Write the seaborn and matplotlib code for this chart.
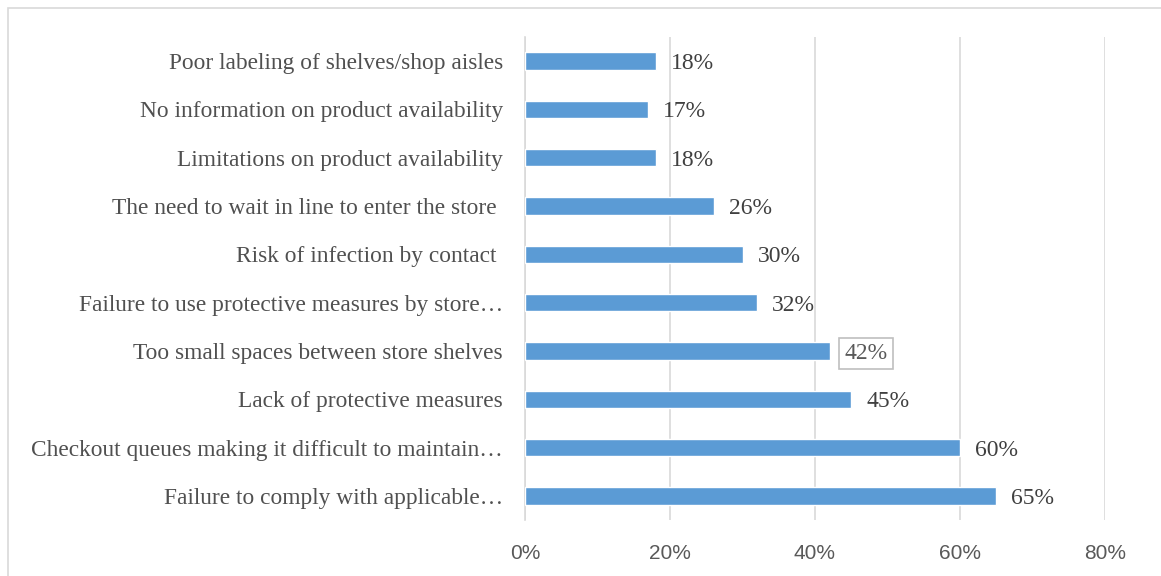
import matplotlib
matplotlib.use("Agg")
import matplotlib.pyplot as plt
import seaborn as sns
import pandas as pd
from matplotlib.patches import Rectangle
from matplotlib.ticker import FuncFormatter

categories = [
    "Poor labeling of shelves/shop aisles",
    "No information on product availability",
    "Limitations on product availability",
    "The need to wait in line to enter the store ",
    "Risk of infection by contact ",
    "Failure to use protective measures by store\u2026",
    "Too small spaces between store shelves",
    "Lack of protective measures",
    "Checkout queues making it difficult to maintain\u2026",
    "Failure to comply with applicable\u2026",
]
values = [0.18, 0.17, 0.18, 0.26, 0.30, 0.32, 0.42, 0.45, 0.60, 0.65]
value_labels = ["18%", "17%", "18%", "26%", "30%", "32%", "42%", "45%", "60%", "65%"]
boxed_label = "42%"
x_ticks = [0, 0.2, 0.4, 0.6, 0.8]

sns.set_theme(style="white")
serif = ["Liberation Serif", "DejaVu Serif"]
sans = ["Liberation Sans Narrow", "Liberation Sans", "DejaVu Sans"]

df = pd.DataFrame({"category": categories, "value": values})

fig = plt.figure(figsize=(11.61, 5.76), dpi=100)
ax = fig.add_axes([525 / 1161, 1 - 520 / 576, 580 / 1161, 483 / 576])

sns.barplot(data=df, y="category", x="value", orient="h", color="#5B9BD5",
            saturation=1, width=0.36, ax=ax, zorder=3)

ax.set_xlim(0, 0.8)
ax.set_xticks(x_ticks)
ax.xaxis.set_major_formatter(FuncFormatter(lambda v, _: f"{v * 100:.0f}%"))
ax.grid(axis="x", color="#D9D9D9", linewidth=1.2, zorder=0)
ax.grid(axis="y", visible=False)
for side in ["top", "right", "bottom"]:
    ax.spines[side].set_visible(False)
ax.spines["left"].set_color("#D9D9D9")
ax.spines["left"].set_linewidth(1.2)
ax.tick_params(axis="both", length=0)
ax.tick_params(axis="y", pad=16)
ax.tick_params(axis="x", pad=17)
ax.set_xlabel("")
ax.set_ylabel("")

for lab in ax.get_yticklabels():
    lab.set_fontfamily(serif)
    lab.set_fontsize(16.8)
    lab.set_color("#505050")
for lab in ax.get_xticklabels():
    lab.set_fontfamily(sans)
    lab.set_fontsize(15)
    lab.set_color("#595959")

for i, (v, txt) in enumerate(zip(values, value_labels)):
    kw = dict(ha="left", va="center_baseline", fontsize=17, family=serif,
              color="#404040")
    if txt == boxed_label:
        kw["bbox"] = dict(boxstyle="square,pad=0.22", facecolor="white",
                          edgecolor="#BFBFBF", linewidth=1.2)
        kw["color"] = "#595959"
    ax.annotate(txt, xy=(v, i), xytext=(15, 0), textcoords="offset pixels", **kw)

# light chart-area border
fig.patches.append(Rectangle((8 / 1161, -0.05), 1.1, (576 - 8) / 576 + 0.05,
                             transform=fig.transFigure, fill=False,
                             edgecolor="#D9D9D9", linewidth=1.2))

fig.savefig("out.png", dpi=100)
